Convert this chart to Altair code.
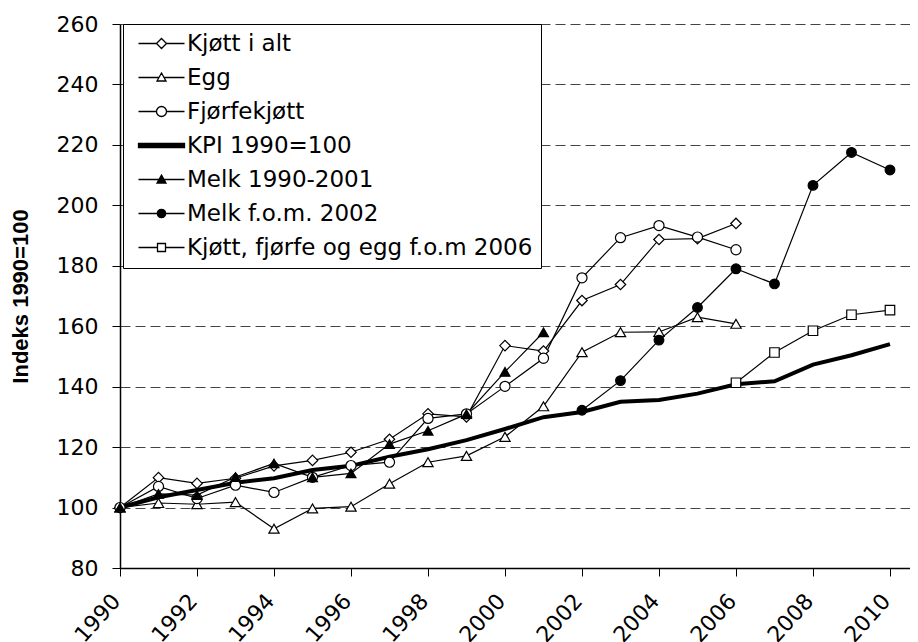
import altair as alt
import pandas as pd

# ---- data ----
years_a = list(range(1990, 2007))
kjott = [100, 109.9, 108.0, 109.7, 113.8, 115.6, 118.3, 122.6, 131.0, 130.0,
         153.6, 151.8, 168.5, 173.8, 188.7, 189.0, 194.0]
egg = [100, 101.5, 101.1, 101.8, 93.0, 99.7, 100.3, 107.9, 115.0, 117.1,
       123.4, 133.5, 151.4, 158.0, 158.1, 163.0, 160.8]
fjorfe = [100, 107.0, 103.0, 107.4, 105.0, 110.0, 113.9, 115.0, 129.5, 131.0,
          140.1, 149.4, 176.0, 189.3, 193.3, 189.5, 185.3]
years_kpi = list(range(1990, 2011))
kpi = [100, 103.4, 105.8, 108.2, 109.7, 112.4, 113.8, 116.8, 119.3, 122.3,
       126.0, 129.9, 131.6, 135.0, 135.6, 137.7, 140.8, 141.8, 147.3, 150.4, 154.1]
years_m1 = list(range(1990, 2002))
melk1 = [100, 104.5, 104.1, 110.1, 114.6, 110.0, 111.3, 121.0, 125.4, 130.9, 144.9, 158.0]
years_m2 = list(range(2002, 2011))
melk2 = [132.2, 142.0, 155.4, 166.2, 179.0, 174.0, 206.6, 217.5, 211.7]
years_k2 = list(range(2006, 2011))
kfe = [141.3, 151.3, 158.5, 163.8, 165.3]

series_names = ["Kjøtt i alt", "Egg", "Fjørfekjøtt", "KPI 1990=100",
                "Melk 1990-2001", "Melk f.o.m. 2002", "Kjøtt, fjørfe og egg f.o.m 2006"]
x_ticks = list(range(1990, 2011, 2))
y_ticks = list(range(80, 261, 20))

rows = []
for name, yrs, vals in zip(series_names,
                           [years_a, years_a, years_a, years_kpi, years_m1, years_m2, years_k2],
                           [kjott, egg, fjorfe, kpi, melk1, melk2, kfe]):
    for yr, v in zip(yrs, vals):
        rows.append({"year": yr, "value": v, "series": name})
df = pd.DataFrame(rows)

marker_names = [n for n in series_names if n != "KPI 1990=100"]
marker_shapes = ["diamond", "triangle-up", "circle", "triangle-up", "circle", "square"]
marker_fills = ["white", "white", "white", "black", "black", "white"]
marker_sizes = [110, 90, 100, 80, 60, 70]

legend_paths = [
    "M-2.3,0L-0.5,0M0.5,0L2.3,0M-0.5,0L0,-0.5L0.5,0L0,0.5Z",
    "M-2.3,0L-0.25,0M0.25,0L2.3,0M0,-0.45L0.45,0.35L-0.45,0.35Z",
    "M-2.3,0L-0.5,0M0.5,0L2.3,0M-0.5,0A0.5,0.5 0 1,1 0.5,0A0.5,0.5 0 1,1 -0.5,0Z",
    "M-2.3,-0.2L2.3,-0.2L2.3,0.2L-2.3,0.2Z",
    "M-2.3,0L2.3,0M0,-0.45L0.45,0.35L-0.45,0.35Z",
    "M-2.3,0L2.3,0M-0.42,0A0.42,0.42 0 1,1 0.42,0A0.42,0.42 0 1,1 -0.42,0Z",
    "M-2.3,0L-0.4,0M0.4,0L2.3,0M-0.4,-0.4L0.4,-0.4L0.4,0.4L-0.4,0.4Z",
]
legend_fills = ["white", "white", "white", "black", "black", "black", "white"]
legend_strokes = ["black"] * 7

x_enc = alt.X("year:Q", scale=alt.Scale(domain=[1990, 2010.52], nice=False, zero=False),
              axis=alt.Axis(values=x_ticks, format="d", title=None, grid=False,
                            labelAngle=312, labelAlign="right", labelBaseline="middle",
                            labelPadding=21, labelOffset=-4, tickSize=8, labelFontSize=22))
y_enc = alt.Y("value:Q", scale=alt.Scale(domain=[80, 260], nice=False, zero=False),
              axis=alt.Axis(values=y_ticks, title="Indeks 1990=100", grid=True,
                            gridDash=[10, 5], gridColor="#444444", gridWidth=1,
                            tickSize=8, labelPadding=14, labelFontSize=22,
                            titleFont="Liberation Sans", titleFontSize=22,
                            titleFontWeight="bold", titlePadding=24))

base = alt.Chart(df)

thin_lines = base.transform_filter(alt.datum.series != "KPI 1990=100").mark_line(
    color="black", strokeWidth=1.2).encode(x=x_enc, y=y_enc, detail="series:N")

kpi_line = base.transform_filter(alt.datum.series == "KPI 1990=100").mark_line(
    color="black", strokeWidth=4).encode(x=x_enc, y=y_enc)

points = base.transform_filter(alt.datum.series != "KPI 1990=100").mark_point(
    filled=False, stroke="black", strokeWidth=1.2, opacity=1).encode(
    x=x_enc, y=y_enc,
    shape=alt.Shape("series:N", scale=alt.Scale(domain=marker_names, range=marker_shapes), legend=None),
    fill=alt.Fill("series:N", scale=alt.Scale(domain=marker_names, range=marker_fills), legend=None),
    size=alt.Size("series:N", scale=alt.Scale(domain=marker_names, range=marker_sizes), legend=None),
)

leg = alt.Legend(title=None)
legend_layer = base.mark_point(opacity=0, strokeWidth=1.3).encode(
    x=x_enc, y=y_enc,
    shape=alt.Shape("series:N", scale=alt.Scale(domain=series_names, range=legend_paths), legend=leg),
    fill=alt.Fill("series:N", scale=alt.Scale(domain=series_names, range=legend_fills), legend=leg),
    stroke=alt.Stroke("series:N", scale=alt.Scale(domain=series_names, range=legend_strokes), legend=leg),
)

chart = alt.layer(thin_lines, kpi_line, points, legend_layer).resolve_scale(
    shape="independent", fill="independent", size="independent", stroke="independent"
).properties(
    width=790, height=544,
    autosize=alt.AutoSizeParams(type="none"),
    padding={"left": 112, "top": 16, "right": 0, "bottom": 80},
).configure_view(stroke=None).configure_axis(
    labelFont="DejaVu Sans", labelColor="black", domainColor="black", domainWidth=1.5,
    tickColor="black", tickWidth=1, titleColor="black",
).configure_legend(
    orient="none", legendX=3, legendY=0,
    fillColor="white", strokeColor="black", padding=8,
    rowPadding=10, symbolOffset=19, labelOffset=14, symbolSize=400,
    labelFont="DejaVu Sans", labelFontSize=23, labelColor="black", labelLimit=600,
    symbolStrokeWidth=1.3, symbolOpacity=1,
)

chart.save("out.html", embed_options={"renderer": "svg", "actions": False})
